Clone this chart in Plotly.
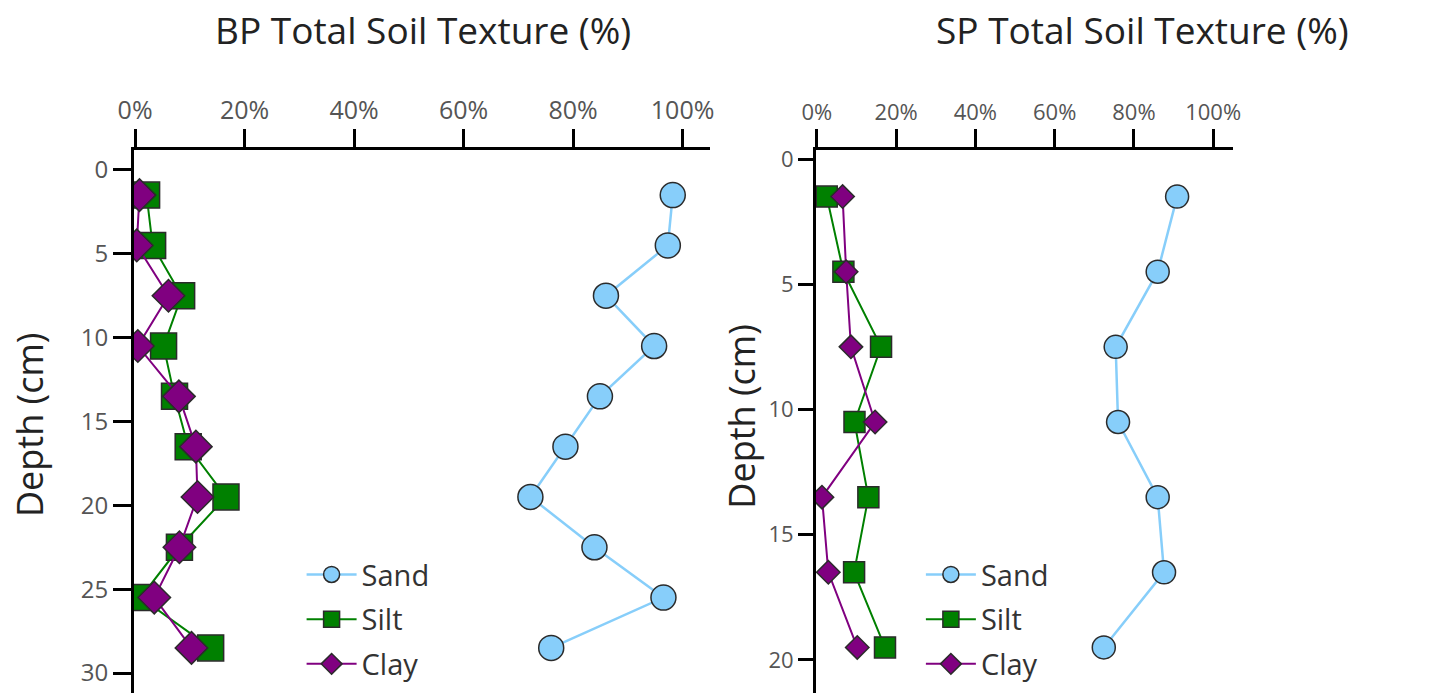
import plotly.graph_objects as go

# Sampling depths (cm, mid-point of each 3 cm interval)
bp_depth = [1.5, 4.5, 7.5, 10.5, 13.5, 16.5, 19.5, 22.5, 25.5, 28.5]
sp_depth = [1.5, 4.5, 7.5, 10.5, 13.5, 16.5, 19.5]

# BP site texture fractions (%)
bp_sand = [98.2, 97.3, 86.0, 94.8, 84.9, 78.6, 72.2, 83.9, 96.5, 76.0]
bp_silt = [2.1, 3.2, 8.5, 5.2, 7.2, 9.7, 16.6, 8.1, 1.0, 13.8]
bp_clay = [0.8, 0.3, 6.1, 0.5, 8.0, 11.1, 11.4, 8.1, 3.5, 10.3]

# SP site texture fractions (%)
sp_sand = [90.9, 86.0, 75.4, 76.0, 86.0, 87.6, 72.4]
sp_silt = [2.5, 6.7, 16.2, 9.5, 13.0, 9.4, 17.2]
sp_clay = [6.5, 7.4, 8.6, 14.7, 1.3, 2.9, 10.2]

x_ticks = [0, 20, 40, 60, 80, 100]
x_tick_labels = [f"{v}%" for v in x_ticks]

FONT = "Open Sans"
SAND_C = "#87CEFA"
SILT_C = "#008000"
CLAY_C = "#800080"
EDGE = "#2b2b2b"

fig = go.Figure()


def add_panel(depth, sand, silt, clay, xa, ya, legend, sizes):
    cs, ss, ds = sizes
    fig.add_trace(go.Scatter(
        x=sand, y=depth, name="Sand", mode="lines+markers",
        xaxis=xa, yaxis=ya, legend=legend, legendgroup=legend + "sand",
        line=dict(color=SAND_C, width=2.5),
        marker=dict(symbol="circle", size=cs, color=SAND_C,
                    line=dict(color=EDGE, width=1.5))))
    fig.add_trace(go.Scatter(
        x=silt, y=depth, name="Silt", mode="lines+markers",
        xaxis=xa, yaxis=ya, legend=legend, legendgroup=legend + "silt",
        line=dict(color=SILT_C, width=2),
        marker=dict(symbol="square", size=ss, color=SILT_C,
                    line=dict(color=EDGE, width=1.5))))
    fig.add_trace(go.Scatter(
        x=clay, y=depth, name="Clay", mode="lines+markers",
        xaxis=xa, yaxis=ya, legend=legend, legendgroup=legend + "clay",
        line=dict(color=CLAY_C, width=2),
        marker=dict(symbol="diamond", size=ds, color=CLAY_C,
                    line=dict(color=EDGE, width=1.5))))


add_panel(bp_depth, bp_sand, bp_silt, bp_clay, "x", "y", "legend", (25, 26, 25))
add_panel(sp_depth, sp_sand, sp_silt, sp_clay, "x2", "y2", "legend2", (23, 21, 18))


def x_axis(domain, anchor, size):
    return dict(
        domain=domain, anchor=anchor, range=[-0.2, 105],
        side="top", tickmode="array", tickvals=x_ticks, ticktext=x_tick_labels,
        showgrid=False, zeroline=False,
        showline=True, linecolor="black", linewidth=3,
        ticks="outside", ticklen=18, tickwidth=3, tickcolor="black",
        tickfont=dict(family=FONT, size=size, color="#555555"),
    )


def y_axis(rng, anchor, size, ticklen):
    return dict(
        domain=[0, 1], anchor=anchor, range=rng, dtick=5,
        showgrid=False, zeroline=False,
        showline=True, linecolor="black", linewidth=3,
        ticks="outside", ticklen=ticklen, tickwidth=3, tickcolor="black",
        tickfont=dict(family=FONT, size=size, color="#555555"),
    )


legend_style = dict(xanchor="left", yanchor="top", bgcolor="rgba(0,0,0,0)",
                    tracegroupgap=4, itemwidth=50,
                    font=dict(family=FONT, size=29, color="#333333"))

fig.update_layout(
    width=1441, height=693,
    margin=dict(l=134, r=208, t=150, b=0),
    paper_bgcolor="white", plot_bgcolor="white",
    font=dict(family=FONT, color="#333333"),
    xaxis=x_axis([0, 0.5241], "y", 25),
    yaxis=y_axis([31.19, -1.19], "x", 24, 18),
    xaxis2=x_axis([0.6206, 1], "y2", 22),
    yaxis2=y_axis([21.32, -0.36], "x2", 22, 15),
    legend=dict(x=0.1525, y=0.265, **legend_style),
    legend2=dict(x=0.716, y=0.265, **legend_style),
    showlegend=True,
)

# Panel titles
for label, xpos in (("BP Total Soil Texture (%)", 0.2634),
                    ("SP Total Soil Texture (%)", 0.9172)):
    fig.add_annotation(text=label, xref="paper", yref="paper",
                       x=xpos, y=1.221, showarrow=False,
                       xanchor="center", yanchor="middle",
                       font=dict(family=FONT, size=37, color="#222222"))

# Depth axis titles
for xpos, ypos in ((-0.0946, 0.4936), (0.5528, 0.508)):
    fig.add_annotation(text="Depth (cm)", xref="paper", yref="paper",
                       x=xpos, y=ypos, textangle=-90, showarrow=False,
                       xanchor="center", yanchor="middle",
                       font=dict(family=FONT, size=36, color="#222222"))

fig.write_html("out.html")
